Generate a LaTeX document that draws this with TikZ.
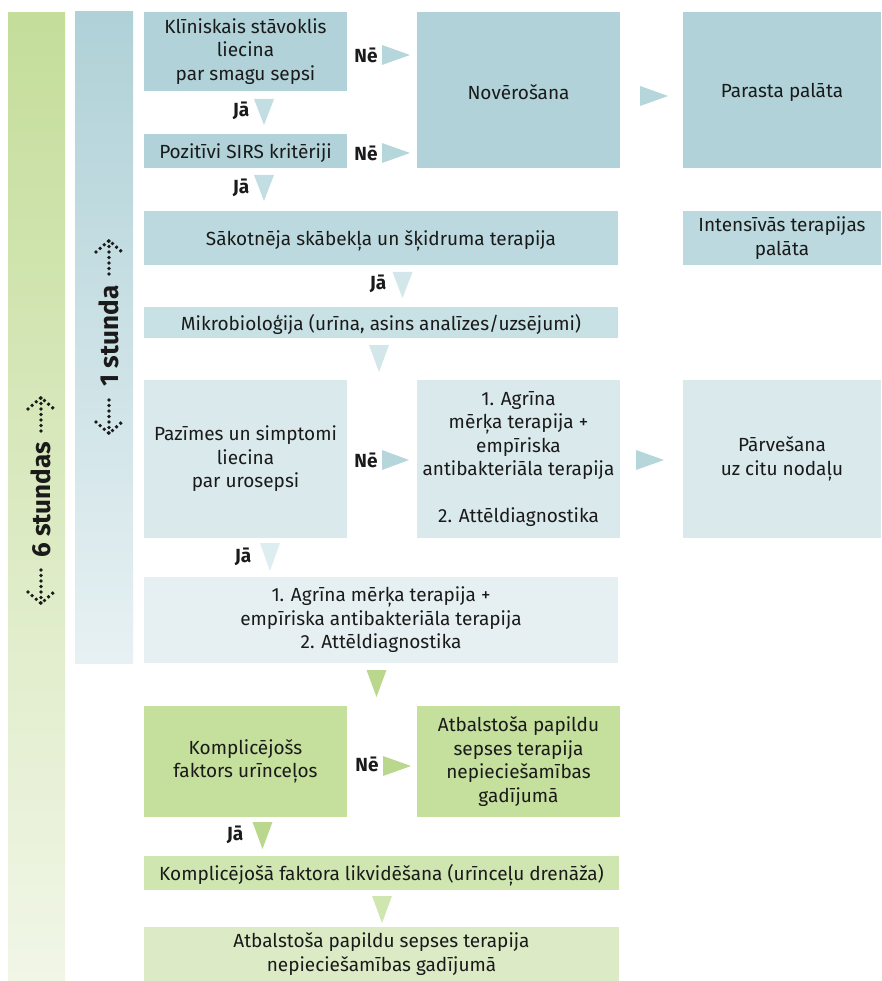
\documentclass[tikz,border=0pt]{standalone}
\usepackage{fontspec}
\setmainfont{Fira Sans}
\usetikzlibrary{calc}
\definecolor{txt}{HTML}{1A1A1A}
\definecolor{bA}{HTML}{B0D2D8}
\definecolor{bB}{HTML}{BBD9DE}
\definecolor{bC}{HTML}{C8E1E5}
\definecolor{bD}{HTML}{DAE9EC}
\definecolor{bE}{HTML}{E6F0F2}
\definecolor{tA}{HTML}{B5D6DB}
\definecolor{tB}{HTML}{C3DEE2}
\definecolor{tC}{HTML}{D3E7EA}
\definecolor{tD}{HTML}{DDEDF0}
\definecolor{gA}{HTML}{C5DF9D}
\definecolor{gT}{HTML}{BAD78E}
\definecolor{gB}{HTML}{D0E6B1}
\definecolor{gC}{HTML}{DCEBC6}
\definecolor{barGtop}{HTML}{C4DD9A}
\definecolor{barGbot}{HTML}{F1F6E7}
\definecolor{barBtop}{HTML}{AFD1D7}
\definecolor{barBbot}{HTML}{E7F1F3}
\newcommand{\rtri}[4]{\fill[#1] (#2,#4-10) -- (#3,#4) -- (#2,#4+10) -- cycle;}
\newcommand{\dtri}[4]{\fill[#1] (#2-10,#3) -- (#2,#4) -- (#2+10,#3) -- cycle;}
\begin{document}
\begin{tikzpicture}[x=1pt,y=-1pt,
  box/.style={fill=#1, inner sep=0pt, outer sep=0pt, align=center, text=txt,
    font=\fontsize{19}{23.5}\selectfont, execute at begin node={\rule{0pt}{20pt}}},
  yn/.style={text=txt, inner sep=0pt, font=\bfseries\fontsize{19}{19}\selectfont},
  side/.style={rotate=90, text=txt, inner sep=0pt, font=\bfseries\fontsize{26}{26}\selectfont},
  dotarrow/.style={draw=txt, line width=3.8pt, line cap=round, dash pattern=on 0pt off 5.5pt}]
\useasboundingbox (0,0) rectangle (881,981);
% side bars
\shade[top color=barGtop, bottom color=barGbot] (8,13) rectangle (65,981);
\shade[top color=barBtop, bottom color=barBbot] (75,12) rectangle (133,663);
\node[side] (six) at (41,500) {6 stundas};
\draw[dotarrow] (41,570) -- (41,603);
\draw[dotarrow] (28,592) -- (41,603.5) -- (54,592);
\draw[dotarrow] (41,431) -- (41,398);
\draw[dotarrow] (28,409) -- (41,397.5) -- (54,409);
\node[side] (one) at (109,336) {1 stunda};
\draw[dotarrow] (109,400) -- (109,433);
\draw[dotarrow] (96,422) -- (109,433.5) -- (122,422);
\draw[dotarrow] (109,274) -- (109,241);
\draw[dotarrow] (96,252) -- (109,240.5) -- (122,252);
% boxes
\node[box=bA, minimum width=203pt, minimum height=79pt] (klin) at (245.5,51.5) {Klīniskais stāvoklis\\liecina\\par smagu sepsi};
\node[box=bA, minimum width=203pt, minimum height=34pt] (sirs) at (245.5,151) {Pozitīvi SIRS kritēriji};
\node[box=bA, minimum width=203pt, minimum height=156pt] (nov) at (518.5,90) {Novērošana};
\node[box=bA, minimum width=198pt, minimum height=156pt] (par) at (782,90) {Parasta palāta};
\node[box=bB, minimum width=474pt, minimum height=54pt] (sak) at (381,238) {Sākotnēja skābekļa un šķidruma terapija};
\node[box=bB, minimum width=198pt, minimum height=54pt] (int) at (782,238) {Intensīvās terapijas\\palāta};
\node[box=bC, minimum width=474pt, minimum height=31pt] (mik) at (381,322.5) {Mikrobioloģija (urīna, asins analīzes/uzsējumi)};
\node[box=bD, minimum width=203pt, minimum height=158pt] (paz) at (245.5,459) {Pazīmes un simptomi\\liecina\\par urosepsi};
\node[box=bD, minimum width=203pt, minimum height=158pt] (agr) at (518.5,459) {1. Agrīna\\mērķa terapija +\\empīriska\\antibakteriāla terapija\\[23.5pt]2. Attēldiagnostika};
\node[box=bD, minimum width=198pt, minimum height=158pt] (parv) at (782,459) {Pārvešana\\uz citu nodaļu};
\node[box=bE, minimum width=474pt, minimum height=86pt] (agr2) at (381,620) {1. Agrīna mērķa terapija +\\empīriska antibakteriāla terapija\\2. Attēldiagnostika};
\node[box=gA, minimum width=203pt, minimum height=111pt] (kom) at (245.5,761.5) {Komplicējošs\\faktors urīnceļos};
\node[box=gA, minimum width=203pt, minimum height=111pt] (atb) at (518.5,761.5) {Atbalstoša papildu\\sepses terapija\\nepieciešamības\\gadījumā};
\node[box=gB, minimum width=475pt, minimum height=34pt] (komf) at (381.5,873) {Komplicējošā faktora likvidēšana (urīnceļu drenāža)};
\node[box=gC, minimum width=475pt, minimum height=54pt] (atb2) at (381.5,954) {Atbalstoša papildu sepses terapija\\nepieciešamības gadījumā};
% connectors (arrowheads) and labels
\rtri{tA}{382}{410}{55}   \node[yn] (n1) at (366,55) {Nē};
\rtri{tA}{382}{410}{153}  \node[yn] (n2) at (366,153) {Nē};
\rtri{tA}{640}{668}{96}
\dtri{tB}{264}{99}{125}   \node[yn] (j1) at (241,111) {Jā};
\dtri{tB}{264}{175}{201}  \node[yn] (j2) at (241,188) {Jā};
\dtri{tC}{402.5}{272}{298} \node[yn] (j3) at (378,284) {Jā};
\dtri{tC}{379}{345}{372}
\rtri{tA}{382}{409}{460}  \node[yn] (n4) at (366,460) {Nē};
\rtri{tA}{636}{664}{460}
\dtri{tD}{270}{543}{571}  \node[yn] (j5) at (243,557) {Jā};
\dtri{gT}{376.5}{670}{697}
\rtri{gT}{383}{411}{766}  \node[yn] (n6) at (367,764) {Nē};
\dtri{gT}{262.5}{822}{849} \node[yn] (j7) at (235,835) {Jā};
\dtri{gB}{382}{896}{923}
\end{tikzpicture}
\end{document}
